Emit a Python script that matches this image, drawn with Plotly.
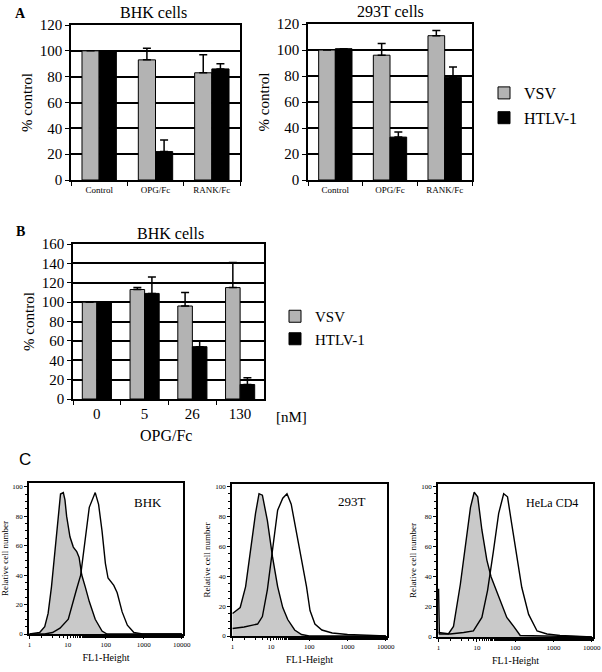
import plotly.graph_objects as go

# ---------------- data ----------------
a_cats = ["Control", "OPG/Fc", "RANK/Fc"]
bhk_vsv = [100, 93, 83]
bhk_vsv_err = [0, 9, 14]
bhk_htlv = [100, 22, 86]
bhk_htlv_err = [0, 9, 4]

t293_vsv = [100, 96, 111]
t293_vsv_err = [0, 9, 4]
t293_htlv = [101, 33, 79]
t293_htlv_err = [0, 4, 8]

b_cats = ["0", "5", "26", "130"]
b_vsv = [100, 113, 96, 115]
b_vsv_err = [0, 2, 14, 26]
b_htlv = [100, 109, 54, 15]
b_htlv_err = [0, 17, 6, 7]

# flow cytometry histograms (FL1-Height, relative cell number)
bhk_ctrl_x = [1, 1.84, 2.5, 3.07, 3.76, 4.6, 5.65, 6.5, 7.7, 8.5, 9.4, 11.5, 14.1, 17.3, 20, 23.5, 29, 37, 53, 80, 108, 10000]
bhk_ctrl_y = [0, 1, 5, 14, 32, 57, 82, 95, 96, 91, 80, 66, 59, 56, 52, 40, 32, 22, 10, 2, 0, 0]
bhk_stain_x = [1, 2.5, 4, 6.3, 10.4, 14, 17, 22, 29, 37, 53, 65, 80, 98, 115, 163, 200, 270, 370, 550, 920, 10000]
bhk_stain_y = [0, 0, 1, 4, 10, 23, 30, 40, 64, 86, 96, 88, 70, 48, 38, 33, 28, 15, 6, 1, 0, 0]

t293_ctrl_x = [1, 1.58, 2.19, 2.95, 3.98, 4.9, 6.0, 8.1, 11, 15, 20.4, 27.5, 41.7, 63, 100, 10000]
t293_ctrl_y = [15, 19, 33, 57, 82, 95, 94, 77, 53, 33, 19, 11, 4, 1, 0, 0]
t293_stain_x = [1, 2.0, 4.5, 6.0, 8.1, 11, 15, 20.4, 26.3, 33.9, 45.7, 63, 85, 105, 141, 214, 398, 1000, 10000]
t293_stain_y = [5, 6, 8, 13, 31, 57, 84, 92, 95, 88, 71, 51, 33, 17, 8, 4, 2, 1, 0]

hela_ctrl_x = [1, 1.01, 1.05, 1.8, 2.45, 3.7, 5.0, 6.8, 8.5, 10.5, 13.5, 18.2, 23.4, 30.2, 40.7, 60.3, 91.2, 135, 10000]
hela_ctrl_y = [32, 3, 2, 2, 7, 35, 60, 86, 96, 93, 71, 51, 40, 33, 24, 13, 7, 1, 0]
hela_stain_x = [1, 2.0, 4.5, 8.1, 13.5, 19, 27, 37, 50, 63, 81, 110, 148, 224, 372, 676, 1480, 10000]
hela_stain_y = [3, 2, 3, 4, 13, 31, 57, 82, 95, 93, 75, 53, 33, 15, 4, 2, 1, 0]

# ---------------- helpers ----------------
W, H = 602, 672
def px(x):
    return x / W
def py(y):
    return 1 - y / H

FONT = "Liberation Serif, Times New Roman, serif"
GRAY = "#b3b3b3"
SHADE = "#c9c9c9"

fig = go.Figure()

def add_bars(xa, ya, cats, vsv, vsv_err, htlv, htlv_err, show, legend):
    fig.add_trace(go.Bar(
        x=cats, y=vsv, name="VSV", xaxis=xa, yaxis=ya,
        marker=dict(color=GRAY, line=dict(color="black", width=1)),
        error_y=dict(type="data", symmetric=False, array=vsv_err,
                     arrayminus=[0] * len(vsv_err), color="black", thickness=1.5, width=4),
        showlegend=show, legend=legend, legendgroup=legend + "v"))
    fig.add_trace(go.Bar(
        x=cats, y=htlv, name="HTLV-1", xaxis=xa, yaxis=ya,
        marker=dict(color="black", line=dict(color="black", width=1)),
        error_y=dict(type="data", symmetric=False, array=htlv_err,
                     arrayminus=[0] * len(htlv_err), color="black", thickness=1.5, width=4),
        showlegend=show, legend=legend, legendgroup=legend + "h"))

add_bars("x", "y", a_cats, bhk_vsv, bhk_vsv_err, bhk_htlv, bhk_htlv_err, True, "legend")
add_bars("x2", "y2", a_cats, t293_vsv, t293_vsv_err, t293_htlv, t293_htlv_err, False, "legend")
add_bars("x3", "y3", b_cats, b_vsv, b_vsv_err, b_htlv, b_htlv_err, True, "legend2")

def add_hist(xa, ya, cx, cy, sx, sy):
    fig.add_trace(go.Scatter(x=cx, y=cy, xaxis=xa, yaxis=ya, mode="lines",
                             line=dict(color="black", width=1.4), fill="tozeroy",
                             fillcolor=SHADE, showlegend=False))
    fig.add_trace(go.Scatter(x=sx, y=sy, xaxis=xa, yaxis=ya, mode="lines",
                             line=dict(color="black", width=1.4), showlegend=False))

add_hist("x4", "y4", bhk_ctrl_x, bhk_ctrl_y, bhk_stain_x, bhk_stain_y)
add_hist("x5", "y5", t293_ctrl_x, t293_ctrl_y, t293_stain_x, t293_stain_y)
add_hist("x6", "y6", hela_ctrl_x, hela_ctrl_y, hela_stain_x, hela_stain_y)

# ---------------- axes ----------------
def bar_x(dom, size):
    return dict(domain=dom, showline=True, linecolor="black", linewidth=1.5, mirror=True,
                ticks="outside", tickson="boundaries", ticklen=4, tickcolor="black",
                tickfont=dict(family=FONT, size=size, color="black"), showgrid=False, zeroline=False,
                automargin=False)

def bar_y(dom, ax, rng, dtick, size):
    return dict(domain=dom, anchor=ax, range=rng, dtick=dtick, showline=True, linecolor="black",
                linewidth=1.5, mirror=True, ticks="outside", ticklen=4, tickcolor="black",
                showgrid=True, gridcolor="black", gridwidth=1.5, zeroline=False, automargin=False,
                tickfont=dict(family=FONT, size=size, color="black"),
                title=dict(text="% control", font=dict(family=FONT, size=15, color="black"), standoff=4))

def hist_x(dom):
    return dict(domain=dom, type="log", range=[-0.015, 4.03], showline=True, linecolor="black",
                linewidth=1.5, mirror=True, ticks="outside", ticklen=3, tickcolor="black",
                tickvals=[1, 10, 100, 1000, 10000], ticktext=["1", "10", "100", "1000", "10000"],
                minor=dict(ticks="outside", ticklen=2, tickcolor="black", showgrid=False),
                showgrid=False, zeroline=False, automargin=False,
                tickfont=dict(family=FONT, size=7, color="black"),
                title=dict(text="FL1-Height", font=dict(family=FONT, size=10, color="black"), standoff=6))

def hist_y(dom, ax, top):
    return dict(domain=dom, anchor=ax, range=[0, top], tickvals=[0, 20, 40, 60, 80, 100],
                showline=True, linecolor="black", linewidth=1.5, mirror=True,
                ticks="outside", ticklen=3, tickcolor="black",
                minor=dict(ticks="outside", ticklen=2, tickcolor="black", dtick=5, showgrid=False),
                showgrid=False, zeroline=False, automargin=False,
                tickfont=dict(family=FONT, size=7, color="black"),
                title=dict(text="Relative cell number", font=dict(family=FONT, size=9, color="black"), standoff=3))

xa1 = bar_x([px(71), px(240)], 9); xa1["anchor"] = "y"
xa2 = bar_x([px(308), px(472)], 9); xa2["anchor"] = "y2"
xa3 = bar_x([px(73), px(264)], 15); xa3["anchor"] = "y3"

xa4 = hist_x([px(29), px(183)]); xa4["anchor"] = "y4"
xa5 = hist_x([px(232), px(387)]); xa5["anchor"] = "y5"
xa6 = hist_x([px(438), px(593)]); xa6["anchor"] = "y6"

fig.update_layout(
    width=W, height=H, margin=dict(l=0, r=0, t=0, b=0, autoexpand=False),
    paper_bgcolor="white", plot_bgcolor="white",
    barmode="group", bargap=0.39, bargroupgap=0,
    font=dict(family=FONT, color="black"),
    xaxis=xa1, yaxis=bar_y([py(180), py(25)], "x", [0, 120], 20, 15),
    xaxis2=xa2, yaxis2=bar_y([py(180), py(24)], "x2", [0, 120], 20, 15),
    xaxis3=xa3, yaxis3=bar_y([py(399), py(244)], "x3", [0, 160], 20, 15),
    xaxis4=xa4, yaxis4=hist_y([py(634), py(483)], "x4", 102.5),
    xaxis5=xa5, yaxis5=hist_y([py(636), py(484)], "x5", 101.5),
    xaxis6=xa6, yaxis6=hist_y([py(637), py(484)], "x6", 101.5),
    legend=dict(x=px(484), y=py(76), xanchor="left", yanchor="top", traceorder="grouped",
                tracegroupgap=1, font=dict(family=FONT, size=16, color="black"),
                bgcolor="rgba(0,0,0,0)"),
    legend2=dict(x=px(275), y=py(300), xanchor="left", yanchor="top", traceorder="grouped",
                 tracegroupgap=0, font=dict(family=FONT, size=15, color="black"),
                 bgcolor="rgba(0,0,0,0)"),
)

def note(text, x, y, size, family=FONT, bold=False, xanchor="center"):
    t = "<b>%s</b>" % text if bold else text
    fig.add_annotation(text=t, x=px(x), y=py(y), xref="paper", yref="paper",
                       showarrow=False, xanchor=xanchor, yanchor="middle",
                       font=dict(family=family, size=size, color="black"))

note("A", 20, 13, 14, bold=True)
note("BHK cells", 153, 12, 16)
note("293T cells", 390, 11, 16)
note("B", 20, 231, 14, bold=True)
note("BHK cells", 170, 233, 16)
note("[nM]", 274, 417, 15, xanchor="left")
note("OPG/Fc", 166, 435, 16)
note("C", 25, 459, 17, family="Liberation Sans, Arial, sans-serif")
note("BHK", 148, 502, 13)
note("293T", 352, 501, 13)
note("HeLa CD4", 552, 503, 12)

# place the figure at the window's top-left corner (no default page margin), no mode bar
fig.write_html("out.html", config={"displayModeBar": False},
               post_script="document.body.style.margin='0px';document.body.style.overflow='hidden';")
